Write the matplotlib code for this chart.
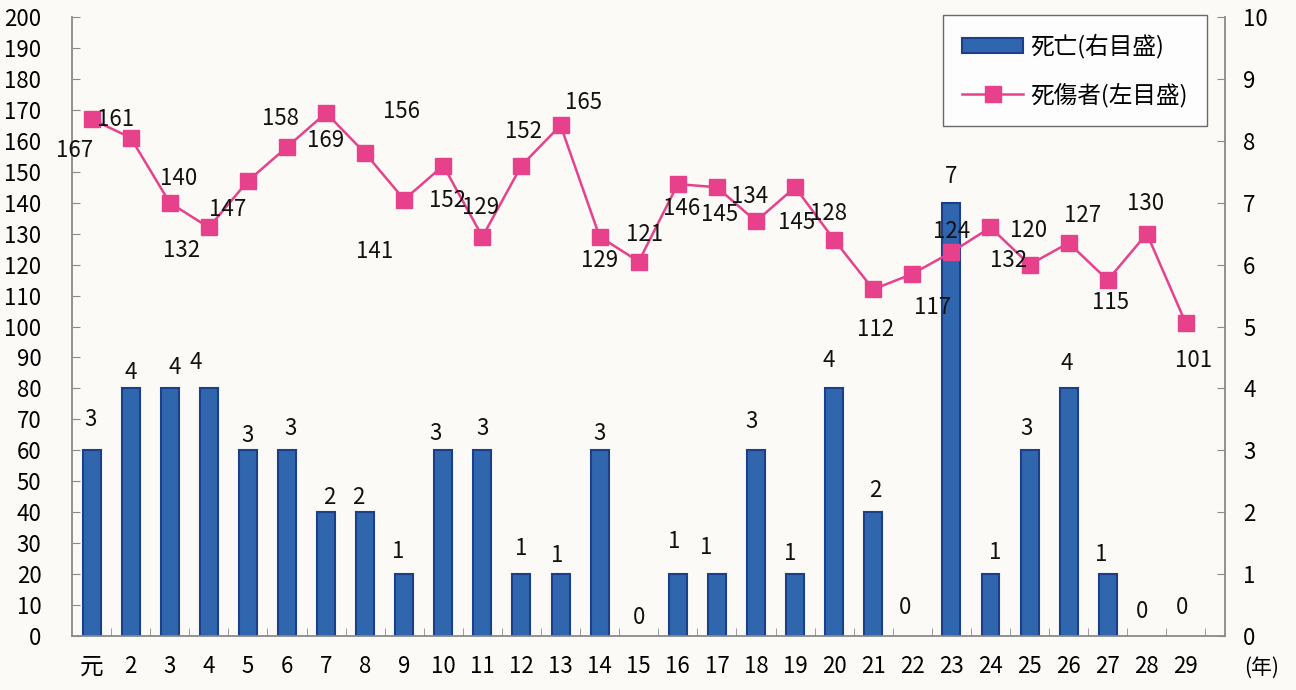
import matplotlib
matplotlib.use("Agg")
import matplotlib.pyplot as plt
from matplotlib.lines import Line2D
from matplotlib.patches import Patch

plt.rcParams['font.family'] = ['Liberation Sans Narrow', 'Noto Sans CJK JP', 'DejaVu Sans']

# ---- data ----
years = ['元', '2', '3', '4', '5', '6', '7', '8', '9', '10', '11', '12', '13', '14', '15',
         '16', '17', '18', '19', '20', '21', '22', '23', '24', '25', '26', '27', '28', '29']
deaths = [3, 4, 4, 4, 3, 3, 2, 2, 1, 3, 3, 1, 1, 3, 0,
          1, 1, 3, 1, 4, 2, 0, 7, 1, 3, 4, 1, 0, 0]
casualties = [167, 161, 140, 132, 147, 158, 169, 156, 141, 152, 129, 152, 165, 129, 121,
              146, 145, 134, 145, 128, 112, 117, 124, 132, 120, 127, 115, 130, 101]
left_ticks = list(range(0, 201, 10))
right_ticks = list(range(0, 11))
label_deaths = '死亡(右目盛)'
label_cas = '死傷者(左目盛)'

# label offsets in pixels (dx, dy; dy positive = up)
cas_off = [(-17, -31), (-15, 18), (9, 24), (-27, -23), (-20, -28), (-7, 28), (0, -28),
           (36, 42), (-30, -52), (4, -35), (-2, 29), (2, 34), (23, 23), (0, -24), (6, 27),
           (4, -24), (3, -27), (-6, 25), (1, -35), (-6, 26), (2, -40), (20, -34), (0, 21),
           (18, -33), (-1, 34), (14, 27), (3, -22), (-1, 30), (8, -37)]
dth_off = [(-1, 31), (0, 16), (5, 21), (-13, 26), (0, 15), (4, 22), (3, 15), (-7, 15),
           (-6, 23), (-8, 17), (0, 22), (0, 26), (-3, 19), (0, 17), (0, 18), (-4, 33),
           (-11, 27), (-4, 29), (-5, 21), (-5, 28), (2, 22), (-7, 28), (0, 26), (5, 22),
           (-3, 22), (-2, 25), (-7, 20), (-5, 25), (-4, 29)]

bar_color = '#2f66ad'
bar_edge = '#1c3f8c'
line_color = '#e8418b'
fs = 16

fig = plt.figure(figsize=(12.96, 6.90), dpi=100, facecolor='#fbfaf6')
ax = fig.add_axes([72/1296, 1-636/690, (1225-72)/1296, (636-17)/690])
ax2 = ax.twinx()
ax.set_zorder(ax2.get_zorder() + 1)
ax.patch.set_visible(False)
ax2.patch.set_facecolor('#fbfaf6')

x = list(range(len(years)))
ax2.bar(x, deaths, width=0.46, color=bar_color, edgecolor=bar_edge,
        linewidth=[1.5 if v > 0 else 0 for v in deaths])
ax.plot(x, casualties, color=line_color, linewidth=1.8, marker='s', markersize=11,
        markerfacecolor=line_color, markeredgecolor=line_color)

for xi, v, (dx, dy) in zip(x, deaths, dth_off):
    ax2.annotate(str(v), (xi, v), xytext=(dx, dy), textcoords='offset pixels',
                 ha='center', va='center', fontsize=fs, color='#111111')
for xi, v, (dx, dy) in zip(x, casualties, cas_off):
    ax.annotate(str(v), (xi, v), xytext=(dx, dy), textcoords='offset pixels',
                ha='center', va='center', fontsize=fs, color='#111111', zorder=5)

ax.set_xlim(-0.5, 29.0)
ax.set_ylim(0, 200)
ax2.set_ylim(0, 10)
ax.set_yticks(left_ticks)
ax2.set_yticks(right_ticks)
ax.set_xticks(x)
ax.set_xticklabels(years)
ax.set_xticks([i + 0.5 for i in range(len(years))], minor=True)

spine_c = '#8a8a8a'
for s in ['top', 'right']:
    ax.spines[s].set_visible(False)
for s in ['top', 'left', 'bottom']:
    ax2.spines[s].set_visible(False)
ax.spines['left'].set_color(spine_c)
ax.spines['bottom'].set_color(spine_c)
ax2.spines['right'].set_color(spine_c)
for sp in (ax.spines['left'], ax.spines['bottom'], ax2.spines['right']):
    sp.set_linewidth(1.3)

ax.tick_params(axis='y', direction='in', length=6, color=spine_c, pad=22, labelsize=fs)
ax2.tick_params(axis='y', direction='in', length=6, color=spine_c, pad=13, labelsize=fs)
ax.tick_params(axis='x', which='major', length=0, pad=14, labelsize=fs)
ax.tick_params(axis='x', which='minor', direction='in', length=6, color=spine_c)
for lab in ax.get_xticklabels():
    if lab.get_text() == '元':
        lab.set_fontsize(fs + 1)
        lab.set_va('top')

fig.text(1262/1296, 1-668/690, '(年)', ha='center', va='center', fontsize=fs - 1)

handles = [Patch(facecolor=bar_color, edgecolor=bar_edge, linewidth=1.5),
           Line2D([0], [0], color=line_color, linewidth=1.8, marker='s', markersize=11,
                  markerfacecolor=line_color)]
leg = ax.legend(handles, [label_deaths, label_cas], loc='upper left',
                bbox_to_anchor=((943-72)/(1225-72), 1.003), borderaxespad=0,
                fontsize=fs + 1, frameon=True, fancybox=False, edgecolor='#444444',
                handlelength=2.6, handleheight=0.6, labelspacing=1.0, borderpad=0.8,
                handletextpad=0.3)
leg.get_frame().set_linewidth(1.0)
leg.get_frame().set_facecolor('white')

fig.savefig('out.png', dpi=100, facecolor=fig.get_facecolor())
